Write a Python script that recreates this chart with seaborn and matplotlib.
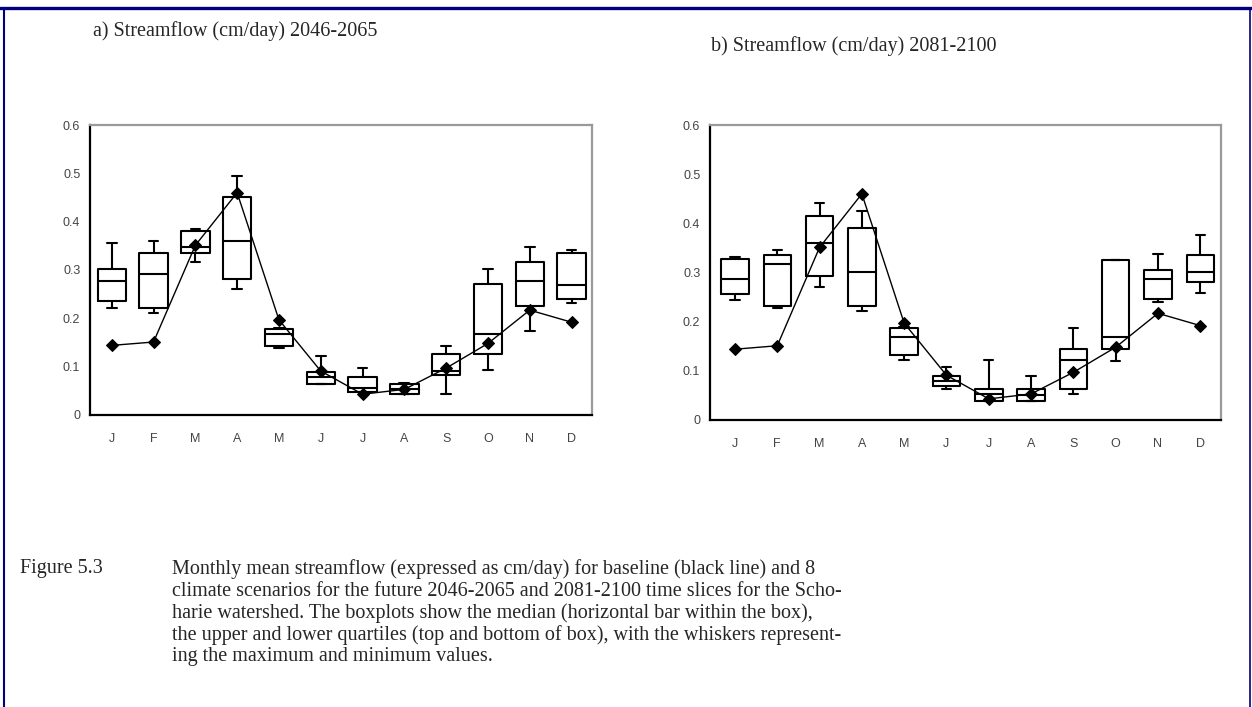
import numpy as np
import pandas as pd
import matplotlib
matplotlib.use("Agg")
import matplotlib.pyplot as plt
from matplotlib.lines import Line2D
import seaborn as sns

# month keys (unique) and the single-letter labels shown on the axis
month_keys = ["Jan", "Feb", "Mar", "Apr", "May", "Jun",
              "Jul", "Aug", "Sep", "Oct", "Nov", "Dec"]
month_letters = ["J", "F", "M", "A", "M", "J", "J", "A", "S", "O", "N", "D"]

# baseline monthly mean streamflow (cm/day)
baseline = [0.144, 0.151, 0.351, 0.460, 0.197, 0.091,
            0.043, 0.053, 0.097, 0.148, 0.217, 0.192]

# 2046-2065 scenario spread: min, lower quartile, median, upper quartile, max
a_min = [0.221, 0.212, 0.316, 0.261, 0.138, 0.064, 0.048, 0.043, 0.043, 0.093, 0.173, 0.231]
a_q1 = [0.235, 0.221, 0.335, 0.281, 0.143, 0.064, 0.048, 0.043, 0.083, 0.127, 0.226, 0.240]
a_med = [0.277, 0.291, 0.347, 0.361, 0.167, 0.078, 0.055, 0.053, 0.091, 0.167, 0.277, 0.268]
a_q3 = [0.302, 0.335, 0.381, 0.450, 0.178, 0.088, 0.078, 0.065, 0.127, 0.271, 0.316, 0.335]
a_max = [0.356, 0.361, 0.385, 0.494, 0.180, 0.122, 0.098, 0.067, 0.143, 0.302, 0.347, 0.342]

# 2081-2100 scenario spread
b_min = [0.245, 0.227, 0.271, 0.222, 0.123, 0.064, 0.039, 0.039, 0.053, 0.119, 0.239, 0.258]
b_q1 = [0.256, 0.231, 0.292, 0.232, 0.132, 0.069, 0.039, 0.039, 0.064, 0.144, 0.247, 0.281]
b_med = [0.286, 0.317, 0.361, 0.301, 0.168, 0.080, 0.053, 0.051, 0.123, 0.168, 0.286, 0.302]
b_q3 = [0.327, 0.336, 0.415, 0.390, 0.188, 0.089, 0.064, 0.064, 0.144, 0.325, 0.306, 0.336]
b_max = [0.332, 0.346, 0.441, 0.426, 0.190, 0.108, 0.123, 0.089, 0.188, 0.325, 0.338, 0.376]

ytick_vals = [0, 0.1, 0.2, 0.3, 0.4, 0.5, 0.6]
ytick_labels = ["0", "0.1", "0.2", "0.3", "0.4", "0.5", "0.6"]

title_a = "a) Streamflow (cm/day) 2046-2065"
title_b = "b) Streamflow (cm/day) 2081-2100"
caption_head = "Figure 5.3"
caption_lines = [
    "Monthly mean streamflow (expressed as cm/day) for baseline (black line) and 8",
    "climate scenarios for the future 2046-2065 and 2081-2100 time slices for the Scho-",
    "harie watershed. The boxplots show the median (horizontal bar within the box),",
    "the upper and lower quartiles (top and bottom of box), with the whiskers represent-",
    "ing the maximum and minimum values.",
]


def summary_frame(mins, q1s, meds, q3s, maxs):
    # five-number summary per month -> long table; quartiles fall exactly on these points
    rows = []
    for i, key in enumerate(month_keys):
        for v in (mins[i], q1s[i], meds[i], q3s[i], maxs[i]):
            rows.append({"month": key, "flow": v})
    return pd.DataFrame(rows)


def draw_panel(ax, df, box_width, xlim):
    sns.boxplot(data=df, x="month", y="flow", order=month_keys, whis=(0, 100),
                fill=False, color="black", linecolor="black", width=box_width,
                linewidth=1.5, ax=ax)
    # narrower whisker caps, about a third of the box
    for ln in ax.lines:
        xs = ln.get_xdata()
        ys = ln.get_ydata()
        if len(xs) == 2 and ys[0] == ys[1] and abs(xs[1] - xs[0]) < box_width * 0.6:
            mid = (xs[0] + xs[1]) / 2
            half = box_width * 0.17
            ln.set_xdata([mid - half, mid + half])
    sns.pointplot(x=month_keys, y=baseline, order=month_keys, color="black",
                  markers="D", markersize=6, linewidth=1.0, errorbar=None, ax=ax)
    ax.set_xlim(*xlim)
    ax.set_ylim(0, 0.6)
    ax.set_yticks(ytick_vals)
    ax.set_yticklabels(ytick_labels, fontsize=9, color="#444444", family="Liberation Sans")
    ax.set_xticks(range(len(month_keys)))
    ax.set_xticklabels(month_letters, fontsize=9, color="#444444", family="Liberation Sans")
    ax.tick_params(axis="x", length=0, pad=13)
    ax.tick_params(axis="y", length=3, width=1, color="black", pad=4)
    ax.set_xlabel("")
    ax.set_ylabel("")
    for side in ("left", "bottom"):
        ax.spines[side].set_color("black")
        ax.spines[side].set_linewidth(1.6)
    for side in ("top", "right"):
        ax.spines[side].set_color("#9a9a9a")
        ax.spines[side].set_linewidth(1.6)
    ax.grid(False)


sns.set_style("white")
plt.rcParams["font.family"] = ["Liberation Serif", "DejaVu Serif"]

W, H = 1252, 707
fig = plt.figure(figsize=(W / 100, H / 100), dpi=100)

ax_a = fig.add_axes([90 / W, 1 - 415 / H, 502 / W, 290 / H])
ax_b = fig.add_axes([710 / W, 1 - 420 / H, 511 / W, 295 / H])

draw_panel(ax_a, summary_frame(a_min, a_q1, a_med, a_q3, a_max), 0.68, (-0.52, 11.49))
draw_panel(ax_b, summary_frame(b_min, b_q1, b_med, b_q3, b_max), 0.65, (-0.59, 11.49))

fig.text(93 / W, 1 - 31 / H, title_a, fontsize=14.5, va="center", ha="left")
fig.text(711 / W, 1 - 46 / H, title_b, fontsize=14.5, va="center", ha="left")

fig.text(20 / W, 1 - 569 / H, caption_head, fontsize=14.5, va="center", ha="left")
for i, line in enumerate(caption_lines):
    fig.text(172 / W, 1 - (569 + 22 * i) / H, line, fontsize=14.5, va="center", ha="left")

# page frame lines in navy
navy = "#00007f"
fig.add_artist(Line2D([0, 1], [1 - 7.5 / H, 1 - 7.5 / H], color=navy, linewidth=2.4,
                      transform=fig.transFigure))
fig.add_artist(Line2D([3.5 / W, 3.5 / W], [0, 1 - 7.5 / H], color=navy, linewidth=1.5,
                      transform=fig.transFigure))
fig.add_artist(Line2D([1249.5 / W, 1249.5 / W], [0, 1 - 7.5 / H], color=navy, linewidth=1.2,
                      transform=fig.transFigure))

fig.savefig("out.png", dpi=100)
